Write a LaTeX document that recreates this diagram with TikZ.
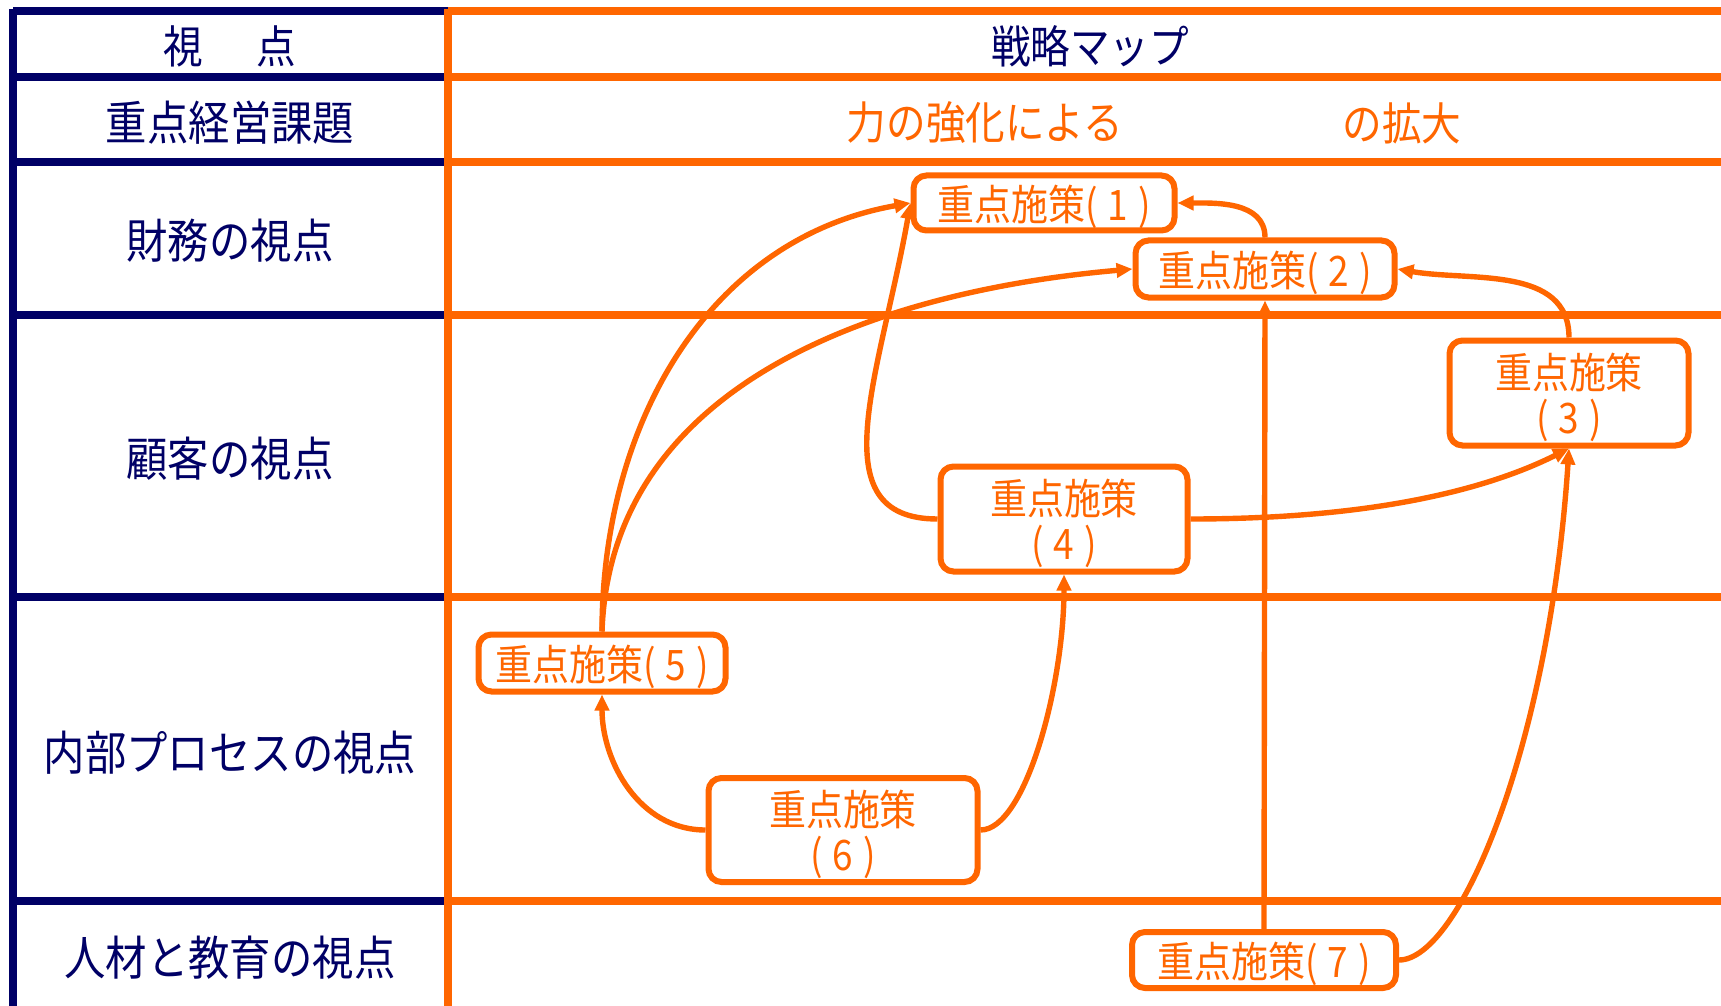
\documentclass[tikz,border=0pt]{standalone}
\usepackage{fontspec}
\setmainfont{Noto Sans CJK JP}[FakeStretch=0.88]
\usetikzlibrary{arrows.meta}
\definecolor{navy}{HTML}{000066}
\definecolor{org}{HTML}{FF6600}
\newcommand{\pn}[1]{(\hspace{5pt}#1\hspace{5pt})}
\begin{document}
\begin{tikzpicture}[x=0.5pt,y=0.5pt,
  navyline/.style={draw=navy,line width=3.8pt},
  orgline/.style={draw=org,line width=3.8pt},
  lbl/.style={text=navy,font=\fontsize{23.5}{26}\selectfont,inner sep=0pt},
  hdr/.style={text=navy,font=\fontsize{22.5}{25}\selectfont,inner sep=0pt},
  ttl/.style={text=org,font=\fontsize{22.5}{25}\selectfont,inner sep=0pt},
  box/.style={draw=org,line width=3pt,rounded corners=6.5pt,fill=white,text=org,
    font=\fontsize{21}{22.5}\selectfont,align=center,inner sep=0pt,text depth=0pt},
  conn/.style={draw=org,line width=2.7pt,-{Triangle[length=8pt,width=7pt]}}]
\useasboundingbox (0,0) rectangle (1721,-1006);
\fill[white] (0,0) rectangle (1721,-1006);

% table lines
\foreach \yy in {11,77,162,315,597,901}{
  \draw[navyline] (13,-\yy) -- (448,-\yy);
  \draw[orgline] (448,-\yy) -- (1721,-\yy);
}
\draw[navyline] (13,-9.1) -- (13,-1006);
\draw[orgline] (448,-9.1) -- (448,-1006);

% left column
\node[hdr] (hview) at (230,-46) {視\hspace{27pt}点};
\node[lbl] (hissue) at (230,-123) {重点経営課題};
\node[lbl] (lfin) at (230,-241) {財務の視点};
\node[lbl] (lcus) at (230,-459) {顧客の視点};
\node[lbl] (lint) at (230,-753) {内部プロセスの視点};
\node[lbl] (lhr) at (230,-958) {人材と教育の視点};

% right header
\node[hdr] (hmap) at (1090,-46) {戦略マップ};
\node[ttl] (t1) at (985,-123) {力の強化による};
\node[ttl] (t2) at (1402,-123) {の拡大};

% boxes
\node[box,minimum width=130.5pt,minimum height=27.5pt] (n1) at (1044,-203) {重点施策\pn{1}};
\node[box,minimum width=129.5pt,minimum height=28.5pt] (n2) at (1265,-269) {重点施策\pn{2}};
\node[box,minimum width=119.5pt,minimum height=52.5pt] (n3) at (1569,-393) {重点施策\\\pn{3}};
\node[box,minimum width=123.5pt,minimum height=52.5pt] (n4) at (1064,-519) {重点施策\\\pn{4}};
\node[box,minimum width=123.5pt,minimum height=28.5pt] (n5) at (602,-663) {重点施策\pn{5}};
\node[box,minimum width=134.5pt,minimum height=52pt] (n6) at (843,-830) {重点施策\\\pn{6}};
\node[box,minimum width=132pt,minimum height=28pt] (n7) at (1264,-960) {重点施策\pn{7}};

% connectors
\draw[conn] (n5.north) to[out=90,in=190] (n1.west);
\draw[conn] (n5.north) to[out=88,in=185] (n2.west);
\draw[conn] (n4.west) .. controls +(-120,0) and +(-30,-170) .. (n1.west);
\draw[conn] (n4.east) .. controls +(200,0) and +(-70,-35) .. (n3.south);
\draw[conn] (n6.west) to[out=180,in=270] (n5.south);
\draw[conn] (n6.east) .. controls +(45,0) and +(0,-110) .. (n4.south);
\draw[conn] (n7.north) -- (n2.south);
\draw[conn] (n7.east) .. controls +(60,0) and +(-20,-300) .. (n3.south);
\draw[conn] (n2.north) to[out=90,in=0] (n1.east);
\draw[conn] (n3.north) to[out=90,in=-10] (n2.east);
\end{tikzpicture}
\end{document}
